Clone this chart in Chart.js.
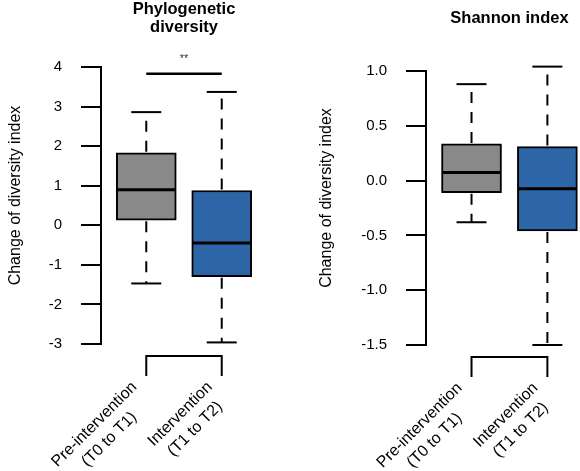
<!DOCTYPE html>
<html>
<head>
<meta charset="utf-8">
<script src="https://cdn.jsdelivr.net/npm/chart.js@4.4.1/dist/chart.umd.min.js"></script>
<style>
  body { margin: 0; background: #fff; }
  .row { display: flex; width: 580px; height: 471px; }
</style>
</head>
<body>
<div class="row">
  <canvas id="pdChart" width="290" height="471"></canvas>
  <canvas id="shChart" width="290" height="471"></canvas>
</div>
<script>
// groups (x categories), each label split in two lines
const groups = [["Pre-intervention", "(T0 to T1)"], ["Intervention", "(T1 to T2)"]];
const groupColors = ["#898989", "#2d66a6"];

// Phylogenetic diversity: box statistics per group
const pdMin = [-1.47, -2.96];
const pdQ1 = [0.13, -1.30];
const pdMedian = [0.90, -0.45];
const pdQ3 = [1.83, 0.88];
const pdMax = [2.86, 3.37];
const pdTicks = [-3, -2, -1, 0, 1, 2, 3, 4];

// Shannon index: box statistics per group
const shMin = [-0.38, -1.50];
const shQ1 = [-0.11, -0.46];
const shMedian = [0.075, -0.075];
const shQ3 = [0.335, 0.31];
const shMax = [0.88, 1.04];
const shTicks = [-1.5, -1.0, -0.5, 0.0, 0.5, 1.0];

Chart.defaults.font.family = '"Liberation Sans", Arial, sans-serif';
Chart.defaults.color = "#000";

function line(ctx, x1, y1, x2, y2) {
  ctx.beginPath();
  ctx.moveTo(x1, y1);
  ctx.lineTo(x2, y2);
  ctx.stroke();
}

// whiskers, medians, R style x axis, titles
const boxDecor = {
  id: "boxDecor",
  afterDatasetsDraw(chart, args, o) {
    const ctx = chart.ctx;
    const xs = chart.scales.x, ys = chart.scales.y;
    const area = chart.chartArea;
    const bars = chart.getDatasetMeta(0).data;
    ctx.save();
    ctx.strokeStyle = "#000";
    ctx.fillStyle = "#000";

    o.median.forEach((m, i) => {
      const cx = bars[i].x, half = bars[i].width / 2;
      const yHi = ys.getPixelForValue(o.max[i]);
      const yLo = ys.getPixelForValue(o.min[i]);
      ctx.lineWidth = 2;
      ctx.setLineDash([11, 9]);
      line(ctx, cx, ys.getPixelForValue(o.q3[i]) - 1, cx, yHi);
      line(ctx, cx, ys.getPixelForValue(o.q1[i]) + 1, cx, yLo);
      ctx.setLineDash([]);
      line(ctx, cx - half / 2, yHi, cx + half / 2, yHi);
      line(ctx, cx - half / 2, yLo, cx + half / 2, yLo);
      ctx.lineWidth = 3;
      const ym = ys.getPixelForValue(m);
      line(ctx, cx - half + 1, ym, cx + half - 1, ym);
    });

    // x axis as a bracket between the two groups
    const x1 = xs.getPixelForValue(1), x2 = xs.getPixelForValue(2);
    const b = area.bottom + 12;
    ctx.lineWidth = 2;
    ctx.beginPath();
    ctx.moveTo(x1, b + 20);
    ctx.lineTo(x1, b);
    ctx.lineTo(x2, b);
    ctx.lineTo(x2, b + 20);
    ctx.stroke();

    // rotated group labels
    ctx.font = '16px "Liberation Sans", Arial, sans-serif';
    ctx.textAlign = "center";
    ctx.textBaseline = "middle";
    groups.forEach((lines, i) => {
      const w = Math.max(...lines.map(s => ctx.measureText(s).width));
      ctx.save();
      ctx.translate(xs.getPixelForValue(i + 1) - 4.5, area.bottom + 48);
      ctx.rotate(-Math.PI / 4);
      lines.forEach((s, j) => ctx.fillText(s, -w / 2, (j - (lines.length - 1) / 2) * 21));
      ctx.restore();
    });

    // y axis title
    ctx.save();
    ctx.translate(o.yTitleX, (area.top + area.bottom) / 2 - 10);
    ctx.rotate(-Math.PI / 2);
    ctx.fillText("Change of diversity index", 0, 0);
    ctx.restore();

    // panel title
    const tx = xs.getPixelForValue(1.5);
    ctx.font = 'bold 16.5px "Liberation Sans", Arial, sans-serif';
    ctx.textBaseline = "alphabetic";
    o.title.forEach((s, j) => ctx.fillText(s, tx, o.titleY + j * 18.4));

    // significance bar
    if (o.sig) {
      const ySig = ys.getPixelForValue(o.sig.value);
      ctx.lineWidth = 2.5;
      line(ctx, x1, ySig, x2, ySig);
      ctx.font = '11px "Liberation Sans", Arial, sans-serif';
      ctx.fillStyle = "#333";
      ctx.fillText(o.sig.text, tx, ySig - 12);
    }
    ctx.restore();
  }
};

function makeChart(id, t) {
  new Chart(document.getElementById(id), {
    type: "bar",
    data: {
      datasets: [{
        data: t.q1.map((q, i) => ({ x: i + 1, y: [q, t.q3[i]] })),
        backgroundColor: groupColors,
        borderColor: "#000",
        borderWidth: 2,
        borderSkipped: false,
        barThickness: 60
      }]
    },
    options: {
      responsive: false,
      animation: false,
      layout: { padding: t.padding },
      plugins: {
        legend: { display: false },
        tooltip: { enabled: false },
        boxDecor: t
      },
      scales: {
        x: { type: "linear", display: false, offset: false, min: 0.4, max: t.xMax },
        y: {
          min: t.ticks[0],
          max: t.ticks[t.ticks.length - 1],
          afterBuildTicks: s => { s.ticks = t.ticks.map(v => ({ value: v })); },
          afterFit: s => { s.width = t.axisX; },
          ticks: {
            font: { size: 15 },
            padding: 19,
            callback: v => t.fmt(v)
          },
          grid: { drawOnChartArea: false, tickLength: 20, color: "#000", lineWidth: 2 },
          border: { display: true, color: "#000", width: 2 }
        }
      }
    },
    plugins: [boxDecor]
  });
}

makeChart("pdChart", {
  min: pdMin, q1: pdQ1, median: pdMedian, q3: pdQ3, max: pdMax, ticks: pdTicks,
  fmt: v => String(v),
  title: ["Phylogenetic", "diversity"], titleY: 13.5,
  sig: { value: 3.83, text: "**" },
  axisX: 101, xMax: 2.6, yTitleX: 16,
  padding: { top: 67, bottom: 127, left: 0, right: 23 }
});

makeChart("shChart", {
  min: shMin, q1: shQ1, median: shMedian, q3: shQ3, max: shMax, ticks: shTicks,
  fmt: v => v.toFixed(1),
  title: ["Shannon index"], titleY: 22.5,
  sig: null,
  axisX: 136, xMax: 2.43, yTitleX: 37,
  padding: { top: 71, bottom: 126, left: 0, right: 0 }
});
</script>
</body>
</html>
